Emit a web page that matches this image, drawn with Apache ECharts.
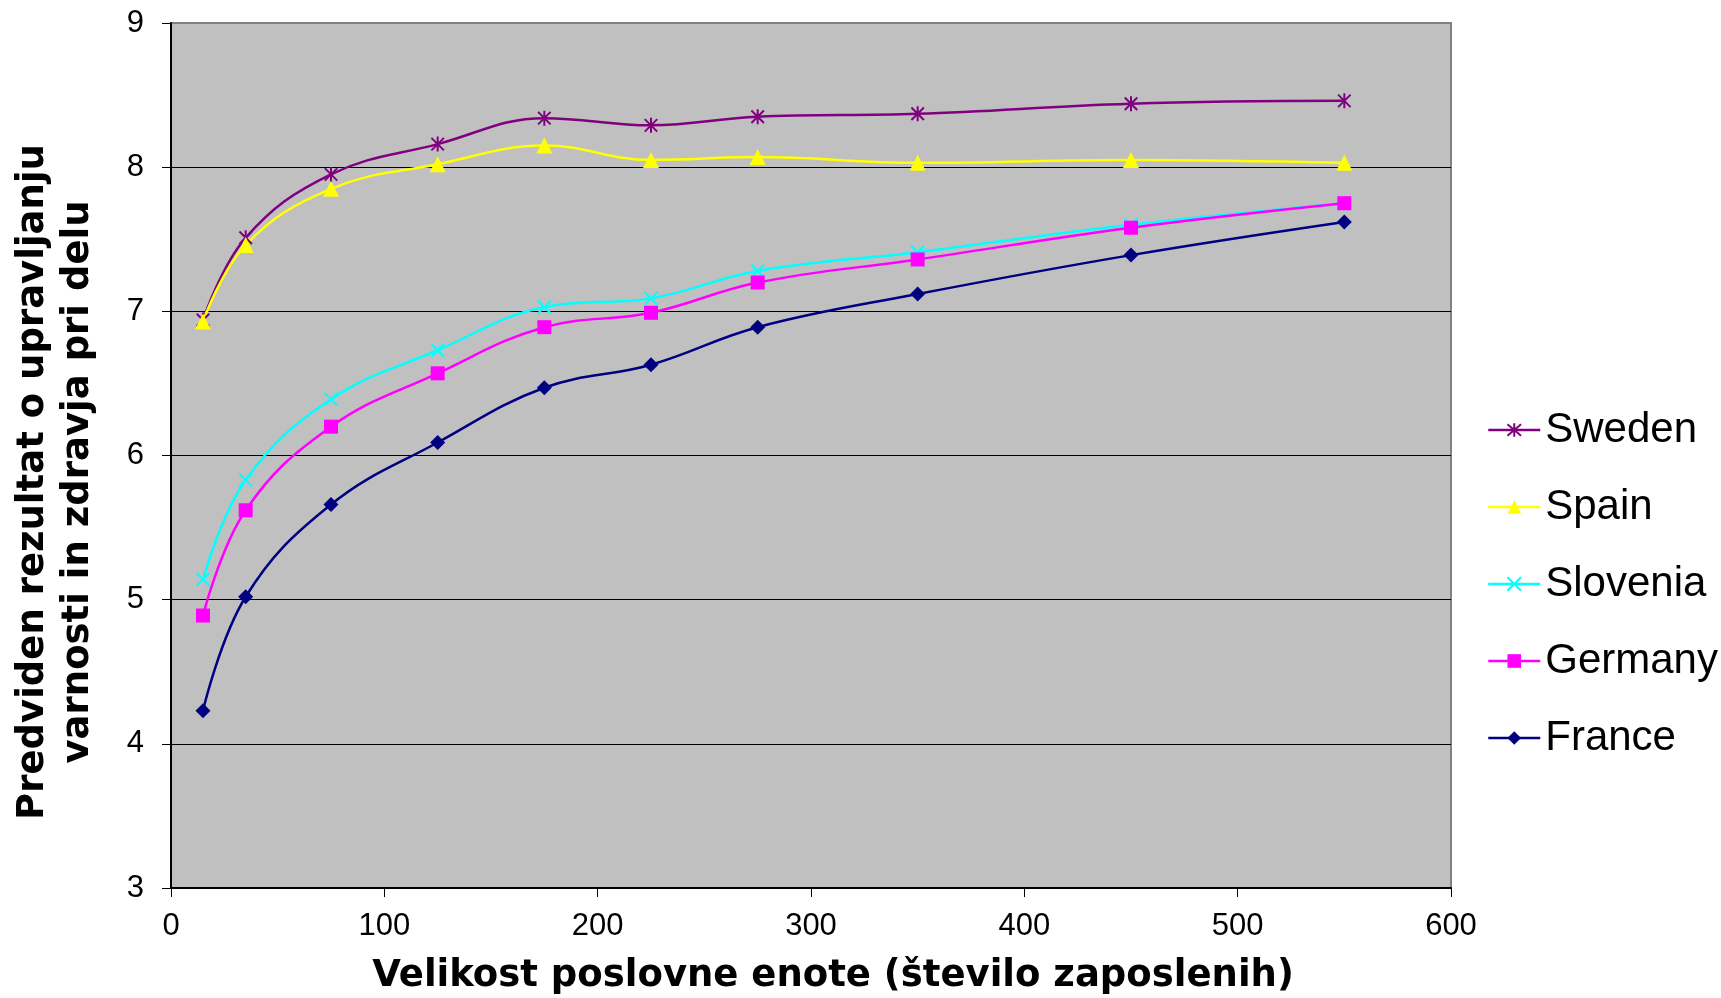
<!DOCTYPE html>
<html>
<head>
<meta charset="utf-8">
<script src="https://cdn.jsdelivr.net/npm/echarts@6/dist/echarts.min.js"></script>
<style>
  html, body { margin: 0; padding: 0; background: #ffffff; }
  #chart { width: 1721px; height: 998px; }
</style>
</head>
<body>
<div id="chart"></div>
<script>
// Business unit size (number of employees)
const sizes = [15, 35, 75, 125, 175, 225, 275, 350, 450, 550];

// Predicted OSH management score per country
const sweden   = [6.94, 7.51, 7.95, 8.16, 8.34, 8.29, 8.35, 8.37, 8.44, 8.46];
const spain    = [6.93, 7.46, 7.85, 8.02, 8.15, 8.05, 8.07, 8.03, 8.05, 8.03];
const slovenia = [5.14, 5.83, 6.39, 6.73, 7.03, 7.09, 7.28, 7.41, 7.60, 7.75];
const germany  = [4.89, 5.62, 6.20, 6.57, 6.89, 6.99, 7.20, 7.36, 7.58, 7.75];
const france   = [4.23, 5.02, 5.66, 6.09, 6.47, 6.63, 6.89, 7.12, 7.39, 7.62];

const countryNames = ['Sweden', 'Spain', 'Slovenia', 'Germany', 'France'];
const xAxisTitle = 'Velikost poslovne enote (število zaposlenih)';
const yAxisTitle = 'Predviden rezultat o upravljanju\nvarnosti in zdravja pri delu';

const pairs = vals => sizes.map((x, i) => [x, vals[i]]);

const ASTERISK = 'path://M0,0L10,10M10,0L0,10M5,-1L5,11';
const CROSS = 'path://M0,0L10,10M10,0L0,10';

function makeSeries(name, vals, color, symbol, size, stroked) {
  return {
    name: name,
    type: 'line',
    data: pairs(vals),
    smooth: 0.4,
    symbol: symbol,
    symbolSize: size,
    symbolKeepAspect: true,
    lineStyle: { color: color, width: 2.5 },
    itemStyle: stroked
      ? { color: color, borderColor: color, borderWidth: 2 }
      : { color: color, borderWidth: 0 },
    emphasis: { disabled: true },
    z: 3
  };
}

const chart = echarts.init(document.getElementById('chart'), null, { renderer: 'canvas' });

chart.setOption({
  animation: false,
  backgroundColor: '#ffffff',
  grid: {
    left: 171,
    top: 23,
    right: 270,
    bottom: 110,
    show: true,
    backgroundColor: '#C0C0C0',
    borderColor: '#808080',
    borderWidth: 2
  },
  xAxis: {
    type: 'value',
    min: 0,
    max: 600,
    interval: 100,
    axisLine: { show: true, onZero: false, lineStyle: { color: '#000', width: 2 } },
    axisTick: { show: true, inside: false, length: 9, lineStyle: { color: '#000', width: 1 } },
    axisLabel: { color: '#000', fontFamily: 'Liberation Sans', fontSize: 31, margin: 23 },
    splitLine: { show: false }
  },
  yAxis: {
    type: 'value',
    min: 3,
    max: 9,
    interval: 1,
    axisLine: { show: true, onZero: false, lineStyle: { color: '#000', width: 2 } },
    axisTick: { show: true, inside: false, length: 9, lineStyle: { color: '#000', width: 1 } },
    axisLabel: { color: '#000', fontFamily: 'Liberation Sans', fontSize: 31, margin: 27 },
    splitLine: { show: true, showMinLine: false, showMaxLine: false, lineStyle: { color: '#000', width: 1 } }
  },
  legend: {
    orient: 'vertical',
    left: 1482,
    top: 402,
    itemWidth: 52,
    itemHeight: 17,
    itemGap: 31,
    data: countryNames,
    lineStyle: { width: 2.5 },
    textStyle: { color: '#000', fontFamily: 'Liberation Sans', fontSize: 42, lineHeight: 46 }
  },
  graphic: [
    {
      type: 'text',
      x: 833,
      y: 976,
      style: {
        text: xAxisTitle,
        font: 'bold 37px "DejaVu Sans"',
        fill: '#000',
        textAlign: 'center',
        textVerticalAlign: 'middle'
      }
    },
    {
      type: 'text',
      x: 56,
      y: 482,
      rotation: Math.PI / 2,
      style: {
        text: yAxisTitle,
        font: 'bold 37px "DejaVu Sans"',
        fill: '#000',
        lineHeight: 45,
        textAlign: 'center',
        textVerticalAlign: 'middle'
      }
    }
  ],
  series: [
    makeSeries('Sweden', sweden, '#800080', ASTERISK, 15, true),
    makeSeries('Spain', spain, '#FFFF00', 'triangle', 16, false),
    makeSeries('Slovenia', slovenia, '#00FFFF', CROSS, 13, true),
    makeSeries('Germany', germany, '#FF00FF', 'rect', 14, false),
    makeSeries('France', france, '#000080', 'diamond', 15, false)
  ]
});
</script>
</body>
</html>
